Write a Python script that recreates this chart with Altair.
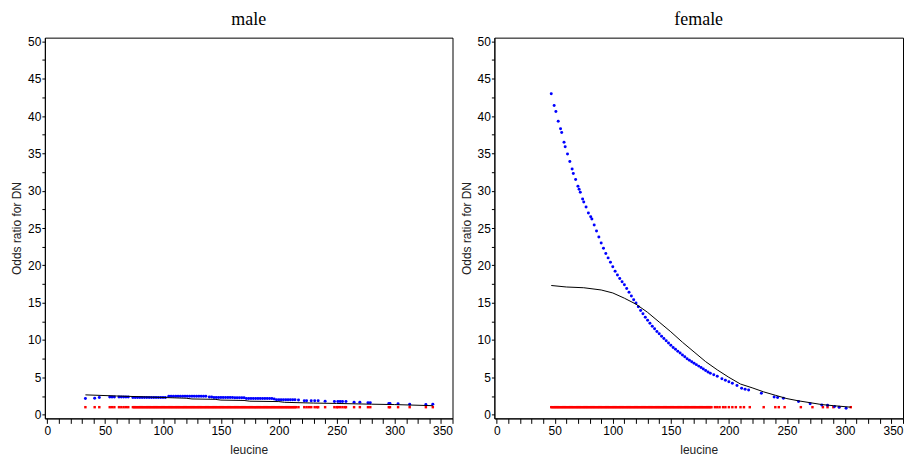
import altair as alt
import pandas as pd

# ---------------- data ----------------
male_blue = [
    (33, 2.15), (41, 2.2), (45, 2.3), (54, 2.35), (56, 2.35), (58, 2.35), (62, 2.35), (64, 2.35),
    (66, 2.35), (68, 2.35), (70, 2.35), (74, 2.3), (76, 2.3), (78, 2.3), (80, 2.3), (82, 2.3),
    (84, 2.3), (86, 2.3), (88, 2.3), (90, 2.3), (92, 2.3), (94, 2.3), (96, 2.3), (98, 2.3),
    (100, 2.3), (102, 2.3), (105, 2.45), (107, 2.45), (109, 2.45), (111, 2.45), (113, 2.45),
    (115, 2.45), (117, 2.45), (119, 2.45), (121, 2.45), (123, 2.45), (125, 2.45), (127, 2.45),
    (129, 2.45), (131, 2.45), (133, 2.45), (135, 2.45), (137, 2.45), (140, 2.35), (142, 2.35),
    (144, 2.3), (146, 2.3), (148, 2.3), (150, 2.3), (152, 2.3), (154, 2.3), (156, 2.3),
    (158, 2.3), (160, 2.3), (162, 2.25), (164, 2.25), (166, 2.25), (168, 2.25), (170, 2.25),
    (172, 2.15), (174, 2.15), (176, 2.15), (178, 2.15), (180, 2.15), (182, 2.15), (184, 2.15),
    (186, 2.15), (188, 2.15), (190, 2.15), (192, 2.15), (194, 2.15), (196, 2.1), (198, 2.0),
    (200, 2.0), (202, 2.0), (204, 2.0), (206, 2.0), (208, 2.0), (210, 2.0), (212, 2.0),
    (214, 2.0), (217, 1.95), (222, 1.85), (224, 1.85), (228, 1.85), (231, 1.85), (234, 1.85),
    (240, 1.8), (248, 1.75), (251, 1.75), (253, 1.75), (255, 1.75), (258, 1.75), (265, 1.65),
    (270, 1.65), (277, 1.6), (279, 1.6), (295, 1.5), (296, 1.5), (303, 1.45), (313, 1.4),
    (327, 1.35), (333, 1.4),
]
male_curve = [
    (33, 2.65), (60, 2.5), (90, 2.35), (120, 2.2), (125, 2.1), (145, 2.05), (150, 1.95),
    (170, 1.9), (175, 1.8), (200, 1.75), (205, 1.65), (230, 1.55), (250, 1.5), (280, 1.4),
    (300, 1.35), (333, 1.2),
]
male_ref_x = [
    33, 41, 45, 54, 56, 58, 62, 64, 66, 68, 70, 74, 75, 76, 77, 78, 79, 80, 81, 82, 83, 84, 85, 86,
    87, 88, 89, 90, 91, 92, 93, 94, 95, 96, 97, 98, 99, 100, 101, 102, 103, 104, 105, 106, 107,
    108, 109, 110, 111, 112, 113, 114, 115, 116, 117, 118, 119, 120, 121, 122, 123, 124, 125,
    126, 127, 128, 129, 130, 131, 132, 133, 134, 135, 136, 137, 138, 139, 140, 141, 142, 143,
    144, 145, 146, 147, 148, 149, 150, 151, 152, 153, 154, 155, 156, 157, 158, 159, 160, 161,
    162, 163, 164, 165, 166, 167, 168, 169, 170, 171, 172, 173, 174, 175, 176, 177, 178, 179,
    180, 181, 182, 183, 184, 185, 186, 187, 188, 189, 190, 191, 192, 193, 194, 195, 196, 197,
    198, 199, 200, 201, 202, 203, 204, 205, 206, 207, 208, 209, 210, 211, 212, 213, 214, 215,
    217, 222, 224, 226, 228, 231, 233, 234, 240, 248, 250, 251, 253, 255, 257, 258, 265, 270,
    277, 279, 295, 296, 303, 313, 327, 333,
]

female_blue = [
    (47, 43.0), (49.5, 41.4), (51, 40.6), (53, 39.3), (55, 38.3), (56, 37.8), (58, 36.5),
    (59, 35.9), (61, 34.9), (63, 33.9), (65, 32.9), (66, 32.3), (68, 31.5), (70, 30.6),
    (71, 30.2), (72, 29.8), (74, 28.9), (75, 28.5), (77, 27.8), (79, 27.0), (81, 26.5),
    (82, 26.2), (84, 25.4), (86, 24.6), (88, 23.8), (90, 23.0), (92, 22.3), (94, 21.6),
    (96, 21.0), (98, 20.4), (100, 19.8), (102, 19.2), (104, 18.7), (106, 18.25), (108, 17.8),
    (110, 17.4), (112, 16.9), (114, 16.4), (116, 15.9), (118, 15.4), (120, 14.95), (122, 14.45),
    (124, 13.95), (126, 13.5), (128, 13.05), (130, 12.65), (132, 12.25), (134, 11.85),
    (136, 11.5), (138, 11.15), (140, 10.85), (142, 10.5), (144, 10.2), (146, 9.9), (148, 9.6),
    (150, 9.3), (152, 9.0), (154, 8.75), (156, 8.5), (158, 8.25), (160, 8.0), (162, 7.75),
    (164, 7.5), (166, 7.3), (168, 7.1), (170, 6.9), (172, 6.7), (174, 6.5), (176, 6.3),
    (178, 6.1), (180, 5.9), (182, 5.7), (184, 5.55), (187, 5.35), (190, 5.15), (194, 4.8),
    (197, 4.6), (200, 4.4), (203, 4.2), (207, 3.9), (211, 3.55), (214, 3.4), (217, 3.3),
    (228, 2.85), (239, 2.35), (242, 2.3), (247, 2.2), (260, 1.75), (270, 1.45), (280, 1.3),
    (285, 1.25), (291, 1.1), (295, 1.0), (301, 0.85),
]
female_curve = [
    (47, 17.3), (60, 17.1), (75, 17.0), (90, 16.7), (100, 16.3), (110, 15.6), (120, 14.8),
    (130, 13.7), (140, 12.4), (150, 11.1), (160, 9.7), (170, 8.4), (180, 7.1), (190, 6.0),
    (200, 5.0), (210, 4.1), (220, 3.6), (230, 3.05), (240, 2.6), (250, 2.15), (260, 1.85),
    (270, 1.6), (280, 1.35), (290, 1.2), (305, 1.0),
]
female_ref_x = [
    47, 48, 49, 50, 51, 52, 53, 54, 55, 56, 57, 58, 59, 60, 61, 62, 63, 64, 65, 66, 67, 68, 69,
    70, 71, 72, 73, 74, 75, 76, 77, 78, 79, 80, 81, 82, 83, 84, 85, 86, 87, 88, 89, 90, 91, 92,
    93, 94, 95, 96, 97, 98, 99, 100, 101, 102, 103, 104, 105, 106, 107, 108, 109, 110, 111, 112,
    113, 114, 115, 116, 117, 118, 119, 120, 121, 122, 123, 124, 125, 126, 127, 128, 129, 130,
    131, 132, 133, 134, 135, 136, 137, 138, 139, 140, 141, 142, 143, 144, 145, 146, 147, 148,
    149, 150, 151, 152, 153, 154, 155, 156, 157, 158, 159, 160, 161, 162, 163, 164, 165, 166,
    167, 168, 169, 170, 171, 172, 173, 174, 175, 176, 177, 178, 179, 180, 181, 182, 183, 184,
    185, 188, 190, 192, 195, 197, 200, 203, 206, 210, 213, 218, 230, 240, 243, 248, 262, 272,
    281, 285, 290, 295, 305,
]

x_ticks = list(range(0, 351, 10))
y_ticks = [i * 2.5 for i in range(0, 21)]

# ---------------- chart ----------------
def panel(title, blue, curve, ref_x, w):
    df_blue = pd.DataFrame(blue, columns=["leucine", "odds"])
    df_curve = pd.DataFrame(curve, columns=["leucine", "odds"])
    df_ref = pd.DataFrame({"leucine": ref_x, "odds": [1.0] * len(ref_x)})

    xs = alt.Scale(domain=[-2, 350], nice=False, zero=False)
    ys = alt.Scale(domain=[-0.5, 50.5], nice=False, zero=False)
    xa = alt.Axis(values=x_ticks, labelExpr="datum.value % 50 == 0 ? datum.label : ''",
                  title="leucine", tickSize=5, labelPadding=2, titlePadding=8)
    ya = alt.Axis(values=y_ticks, labelExpr="datum.value % 5 == 0 ? datum.label : ''",
                  title="Odds ratio for DN", tickSize=3, labelPadding=1, titlePadding=4)

    x = alt.X("leucine:Q", scale=xs, axis=xa)
    y = alt.Y("odds:Q", scale=ys, axis=ya)

    red = alt.Chart(df_ref).mark_point(shape="square", filled=True, size=6,
                                       color="#ff0000", opacity=1).encode(x=x, y=y)
    bl = alt.Chart(df_blue).mark_point(shape="circle", filled=True, size=9,
                                       color="#0000ff", opacity=1).encode(x=x, y=y)
    ln = alt.Chart(df_curve).mark_line(color="black", strokeWidth=1).encode(x=x, y=y)
    return alt.layer(red, bl, ln).properties(
        width=w, height=382,
        title=alt.TitleParams(title, font="Liberation Serif", fontSize=18,
                              fontWeight="normal", color="black", offset=6, anchor="middle"),
    )

chart = alt.hconcat(
    panel("male", male_blue, male_curve, male_ref_x, 409),
    panel("female", female_blue, female_curve, female_ref_x, 410),
    spacing=42, bounds="flush",
).properties(padding={"left": 2, "top": 2, "right": 0, "bottom": 0}).configure_view(
    stroke="black", strokeWidth=1
).configure_axis(
    grid=False, domainColor="black", tickColor="black", labelColor="black",
    titleColor="#222222", labelFont="Liberation Sans", titleFont="Liberation Sans",
    labelFontSize=12, titleFontSize=12, titleFontWeight="normal", domainWidth=1, tickWidth=1,
)

chart.save("out.html", embed_options={"renderer": "svg", "actions": False})
